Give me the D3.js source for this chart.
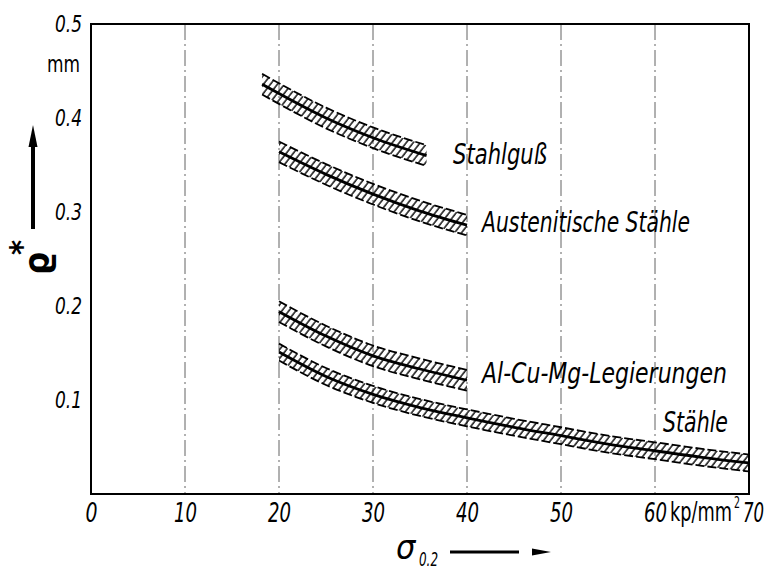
<!DOCTYPE html>
<html><head><meta charset="utf-8">
<script src="https://cdn.jsdelivr.net/npm/d3@7"></script>
<style>
body{margin:0;background:#fff;}
text{font-family:"Liberation Sans Narrow","DejaVu Sans Condensed","Liberation Sans",sans-serif;}
</style></head>
<body>
<svg id="c" width="767" height="569"></svg>
<script>
// ---- data ----
const xTicks = [0, 10, 20, 30, 40, 50, 60, 70];
const yTicks = [0.1, 0.2, 0.3, 0.4, 0.5];
const gridX = [10, 20, 30, 40, 50, 60];
const seriesNames = ["Stahlguß", "Austenitische Stähle", "Al-Cu-Mg-Legierungen", "Stähle"];
const stahlgussX = [18.2, 20, 25, 30, 35.7];
const stahlgussY = [0.436, 0.426, 0.400, 0.379, 0.360];
const austenitX = [20, 25, 30, 35, 40];
const austenitY = [0.364, 0.340, 0.319, 0.301, 0.286];
const alcumgX = [20, 25, 30, 35, 40];
const alcumgY = [0.194, 0.168, 0.147, 0.133, 0.121];
const staehleX = [20, 25, 30, 35, 40, 45, 50, 55, 60, 65, 70];
const staehleY = [0.151, 0.125, 0.106, 0.092, 0.081, 0.071, 0.062, 0.053, 0.046, 0.039, 0.033];
const bandHalf = [0.011, 0.011, 0.011, 0.009];

// ---- layout ----
const svg = d3.select("#c");
const x = d3.scaleLinear().domain([0, 70]).range([91, 749]);
const y = d3.scaleLinear().domain([0, 0.5]).range([494, 24]);

// hatch pattern
const defs = svg.append("defs");
const pat = defs.append("pattern").attr("id", "hatch").attr("patternUnits", "userSpaceOnUse")
  .attr("width", 5.5).attr("height", 10).attr("patternTransform", "rotate(38)");
pat.append("line").attr("x1", 1).attr("y1", 0).attr("x2", 1).attr("y2", 10)
  .attr("stroke", "#000").attr("stroke-width", 1.4);

// grid
svg.append("g").selectAll("line").data(gridX).join("line")
  .attr("x1", d => x(d)).attr("x2", d => x(d))
  .attr("y1", y(0.5)).attr("y2", y(0))
  .attr("stroke", "#222").attr("stroke-width", 1)
  .attr("stroke-dasharray", "16,4,2,4").attr("opacity", 0.7);

// frame
svg.append("rect").attr("x", x(0)).attr("y", y(0.5))
  .attr("width", x(70) - x(0)).attr("height", y(0) - y(0.5))
  .attr("fill", "none").attr("stroke", "#000").attr("stroke-width", 2);

// axes
const ax = svg.append("g").attr("transform", `translate(0,${y(0)})`)
  .call(d3.axisBottom(x).tickValues(xTicks).tickSize(0).tickPadding(9).tickFormat(d3.format("d")));
ax.select(".domain").remove();
ax.selectAll("text").attr("font-size", 27).attr("font-style", "italic")
  .attr("fill", "#000").attr("dy", "0.72em")
  .attr("dx", d => d === 70 ? 4 : 0)
  .attr("textLength", d => d === 0 ? 12 : (d === 70 ? 21 : 23)).attr("lengthAdjust", "spacingAndGlyphs");

const ay = svg.append("g").attr("transform", `translate(${x(0)},0)`)
  .call(d3.axisLeft(y).tickValues(yTicks).tickSize(0).tickPadding(9).tickFormat(d3.format(".1f")));
ay.select(".domain").remove();
ay.selectAll("text").attr("font-size", 23).attr("font-style", "italic").attr("fill", "#000")
  .attr("textLength", 27).attr("lengthAdjust", "spacingAndGlyphs");

svg.append("text").attr("x", 47).attr("y", 72)
  .attr("font-size", 23).attr("textLength", 33).attr("lengthAdjust", "spacingAndGlyphs").text("mm");
svg.append("text").attr("x", 670).attr("y", 521).attr("font-size", 27)
  .attr("textLength", 62).attr("lengthAdjust", "spacingAndGlyphs").text("kp/mm");
svg.append("text").attr("x", 734).attr("y", 508).attr("font-size", 15)
  .attr("textLength", 6).attr("lengthAdjust", "spacingAndGlyphs").text("2");

// series
const series = [
  {xs: stahlgussX, ys: stahlgussY},
  {xs: austenitX, ys: austenitY},
  {xs: alcumgX, ys: alcumgY},
  {xs: staehleX, ys: staehleY}
];
const curve = d3.curveMonotoneX;
series.forEach((s, i) => {
  const pts = s.xs.map((v, k) => [v, s.ys[k]]);
  const h = bandHalf[i];
  const g = svg.append("g");
  g.append("path").attr("d", d3.area().curve(curve).x(d => x(d[0]))
      .y0(d => y(d[1] - h)).y1(d => y(d[1] + h))(pts))
    .attr("fill", "url(#hatch)");
  [h, -h].forEach(off => {
    g.append("path").attr("d", d3.line().curve(curve).x(d => x(d[0])).y(d => y(d[1] + off))(pts))
      .attr("fill", "none").attr("stroke", "#000").attr("stroke-width", 1.8)
      .attr("stroke-dasharray", "9,3");
  });
  g.append("path").attr("d", d3.line().curve(curve).x(d => x(d[0])).y(d => y(d[1]))(pts))
    .attr("fill", "none").attr("stroke", "#000").attr("stroke-width", 2.8);
});

// series labels
const labelPos = [[453, 164], [482, 232], [482, 383], [663, 432]];
const labelLen = [94, 208, 245, 65];
svg.append("g").selectAll("text").data(seriesNames).join("text")
  .attr("x", (d, i) => labelPos[i][0]).attr("y", (d, i) => labelPos[i][1])
  .attr("font-size", 28).attr("font-style", "italic")
  .attr("textLength", (d, i) => labelLen[i]).attr("lengthAdjust", "spacingAndGlyphs")
  .text(d => d);

// y-axis title with arrow
svg.append("line").attr("x1", 33).attr("x2", 33).attr("y1", 229).attr("y2", 142)
  .attr("stroke", "#000").attr("stroke-width", 4);
svg.append("path").attr("d", "M33,125 L28.5,147 L37.5,147 Z").attr("fill", "#000");
svg.append("text").attr("transform", "translate(49,275) rotate(-90)")
  .attr("font-family", "DejaVu Sans").attr("font-size", 36).attr("font-weight", "bold")
  .text("ϱ");
svg.append("text").attr("transform", "translate(32,255) rotate(-90)")
  .attr("font-family", "DejaVu Sans").attr("font-size", 32).attr("font-weight", "bold")
  .text("*");

// x-axis title with arrow
svg.append("text").attr("x", 396).attr("y", 559).attr("font-family", "Liberation Serif")
  .attr("font-style", "italic").attr("font-size", 34).text("σ");
svg.append("text").attr("x", 419).attr("y", 566).attr("font-size", 20).attr("font-style", "italic")
  .attr("textLength", 19).attr("lengthAdjust", "spacingAndGlyphs").text("0.2");
svg.append("line").attr("x1", 450).attr("x2", 519).attr("y1", 552).attr("y2", 552)
  .attr("stroke", "#000").attr("stroke-width", 3.2);
svg.append("path").attr("d", "M532,548.5 L551,552 L532,555.5 Z").attr("fill", "#000");
</script>
</body></html>
